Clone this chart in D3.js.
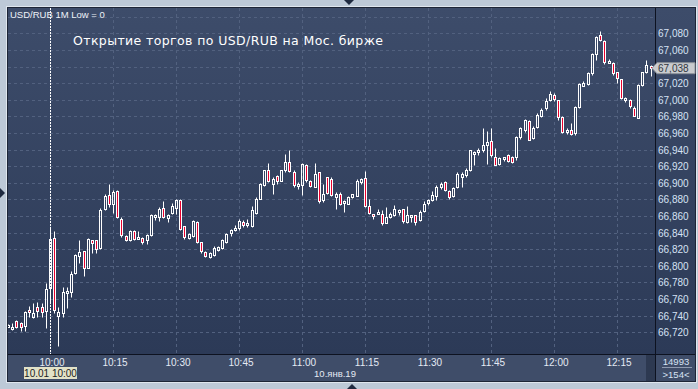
<!DOCTYPE html>
<html>
<head>
<meta charset="utf-8">
<script src="https://cdn.jsdelivr.net/npm/d3@7"></script>
<style>
html, body { margin: 0; padding: 0; background: #bdc9d7; }
svg { display: block; font-family: "Liberation Sans", Arial, sans-serif; }
</style>
</head>
<body>
<svg id="chart" width="698" height="389"></svg>
<script>

// one-minute bars, first bar at 9:50
var firstMinute = 590;

var opens = [
    66727, 66724, 66734, 66731, 66728, 66747, 66738, 66751, 66750, 66746,
    66773, 66833, 66740, 66743, 66767, 66769, 66791, 66812, 66818, 66798,
    66831, 66831, 66822, 66868, 66885, 66875, 66890, 66857, 66836, 66831,
    66842, 66833, 66833, 66831, 66837, 66859, 66859, 66870, 66858, 66864,
    66870, 66879, 66848, 66834, 66836, 66853, 66829, 66817, 66811, 66813,
    66819, 66821, 66829, 66840, 66844, 66845, 66853, 66849, 66848, 66864,
    66881, 66897, 66916, 66899, 66908, 66902, 66915, 66925, 66913, 66896,
    66897, 66921, 66902, 66895, 66913, 66879, 66907, 66905, 66883, 66886,
    66876, 66875, 66883, 66884, 66901, 66906, 66872, 66863, 66863, 66863,
    66852, 66859, 66861, 66865, 66868, 66853, 66860, 66861, 66855, 66866,
    66876, 66879, 66884, 66895, 66901, 66890, 66884, 66895, 66907, 66909,
    66915, 66935, 66937, 66939, 66946, 66950, 66931, 66923, 66929, 66933,
    66931, 66931, 66955, 66964, 66974, 66954, 66967, 66980, 66990, 67000,
    67006, 67000, 66979, 66961, 66964, 66960, 66991, 67017, 67019, 67032,
    67055, 67078, 67071, 67046, 67044, 67033, 67025, 67001, 67000, 66990,
    66978, 67018, 67033, 67041
];

var highs = [
    66730, 66731, 66735, 66733, 66746, 66752, 66755, 66756, 66755, 66779,
    66847, 66842, 66751, 66775, 66775, 66794, 66814, 66831, 66818, 66833,
    66831, 66831, 66870, 66887, 66898, 66891, 66891, 66859, 66837, 66843,
    66843, 66842, 66835, 66838, 66862, 66862, 66871, 66878, 66862, 66876,
    66880, 66880, 66848, 66839, 66855, 66854, 66829, 66818, 66817, 66824,
    66824, 66832, 66839, 66844, 66849, 66856, 66855, 66856, 66872, 66883,
    66900, 66916, 66924, 66907, 66909, 66916, 66935, 66940, 66915, 66901,
    66924, 66923, 66903, 66924, 66913, 66899, 66907, 66907, 66889, 66889,
    66879, 66884, 66887, 66904, 66906, 66914, 66881, 66863, 66868, 66867,
    66871, 66865, 66873, 66868, 66869, 66872, 66861, 66861, 66867, 66878,
    66881, 66890, 66897, 66901, 66902, 66891, 66895, 66913, 66913, 66918,
    66940, 66938, 66942, 66966, 66962, 66966, 66942, 66931, 66931, 66935,
    66932, 66956, 66967, 66977, 66976, 66968, 66984, 66990, 67002, 67011,
    67008, 67000, 66980, 66966, 66972, 66992, 67020, 67022, 67034, 67056,
    67077, 67083, 67072, 67049, 67045, 67034, 67025, 67003, 67001, 66992,
    67019, 67034, 67048, 67042
];

var lows = [
    66726, 66723, 66725, 66722, 66721, 66739, 66737, 66739, 66739, 66725,
    66757, 66743, 66704, 66739, 66749, 66763, 66790, 66804, 66788, 66797,
    66816, 66815, 66820, 66867, 66871, 66864, 66858, 66835, 66830, 66830,
    66831, 66832, 66826, 66826, 66836, 66855, 66854, 66858, 66853, 66862,
    66863, 66843, 66832, 66832, 66835, 66828, 66815, 66811, 66809, 66812,
    66818, 66820, 66828, 66836, 66842, 66843, 66847, 66847, 66847, 66862,
    66880, 66896, 66901, 66887, 66899, 66902, 66913, 66913, 66895, 66892,
    66885, 66901, 66895, 66895, 66876, 66877, 66887, 66884, 66869, 66873,
    66865, 66874, 66882, 66884, 66898, 66871, 66863, 66857, 66862, 66849,
    66851, 66858, 66860, 66861, 66852, 66852, 66853, 66849, 66854, 66865,
    66873, 66878, 66879, 66893, 66890, 66881, 66883, 66894, 66895, 66907,
    66914, 66921, 66933, 66937, 66923, 66931, 66921, 66922, 66926, 66925,
    66924, 66927, 66953, 66961, 66951, 66953, 66966, 66979, 66988, 66999,
    66999, 66976, 66960, 66959, 66958, 66958, 66990, 67016, 67018, 67030,
    67048, 67071, 67043, 67044, 67030, 67020, 67001, 66997, 66990, 66980,
    66978, 67017, 67032, 67029
];

var closes = [
    66729, 66726, 66726, 66726, 66745, 66744, 66743, 66746, 66745, 66772,
    66832, 66747, 66744, 66769, 66770, 66790, 66813, 66817, 66798, 66832,
    66828, 66820, 66867, 66884, 66874, 66889, 66859, 66837, 66831, 66842,
    66832, 66835, 66829, 66837, 66861, 66861, 66869, 66859, 66861, 66872,
    66879, 66844, 66835, 66838, 66854, 66829, 66818, 66812, 66815, 66822,
    66823, 66831, 66838, 66843, 66845, 66854, 66849, 66851, 66867, 66881,
    66899, 66915, 66902, 66905, 66902, 66915, 66925, 66914, 66897, 66899,
    66923, 66903, 66896, 66911, 66878, 66887, 66888, 66885, 66886, 66875,
    66878, 66883, 66886, 66902, 66905, 66872, 66864, 66860, 66865, 66851,
    66859, 66862, 66869, 66867, 66854, 66861, 66861, 66853, 66865, 66874,
    66879, 66885, 66895, 66899, 66891, 66883, 66894, 66911, 66910, 66915,
    66939, 66937, 66940, 66946, 66949, 66933, 66922, 66930, 66931, 66926,
    66925, 66955, 66966, 66976, 66952, 66966, 66982, 66988, 66998, 67007,
    67001, 66979, 66961, 66963, 66959, 66991, 67019, 67020, 67032, 67055,
    67075, 67072, 67045, 67047, 67032, 67026, 67002, 67002, 66992, 66981,
    67018, 67033, 67042, 67038
];

var priceTicks = [66720, 66740, 66760, 66780, 66800, 66820, 66840, 66860, 66880, 66900,
                  66920, 66940, 66960, 66980, 67000, 67020, 67040, 67060, 67080];
var priceGrid = priceTicks.concat([67100]);

var timeTicks = [600, 615, 630, 645, 660, 675, 690, 705, 720, 735];
var timeLabels = ["10:00", "10:15", "10:30", "10:45", "11:00", "11:15", "11:30", "11:45", "12:00", "12:15"];

var cursorMinute = 600;
var cursorLabel = "10.01 10:00";
var dateLabel = "10.янв.19";
var lastPrice = 67038;
var volumeText = "14993";
var barCountText = ">154<";
var titleText = "Открытие торгов по USD/RUB на Мос. бирже";
var seriesText = "USD/RUB 1M Low = 0";

var plot = { left: 8, top: 8, right: 656, bottom: 354, outer: 695 };

var svg = d3.select("#chart");

var x = d3.scaleLinear().domain([600, 615]).range([50.5, 113.5]);
var y = d3.scaleLinear().domain([66720, 67080]).range([332.3, 33.3]);

// background
var defs = svg.append("defs");
var grad = defs.append("linearGradient")
    .attr("id", "bg").attr("x1", 0).attr("y1", 0).attr("x2", 0).attr("y2", 1);
grad.append("stop").attr("offset", "0%").attr("stop-color", "#3d4c6a");
grad.append("stop").attr("offset", "100%").attr("stop-color", "#2c3a57");

defs.append("clipPath").attr("id", "plotClip")
    .append("rect")
    .attr("x", plot.left).attr("y", plot.top)
    .attr("width", plot.right - plot.left).attr("height", plot.bottom - plot.top);

svg.append("rect").attr("width", 698).attr("height", 389).attr("fill", "#bdc9d7");
svg.append("rect")
    .attr("x", 6.5).attr("y", 6.5).attr("width", 690).attr("height", 376)
    .attr("fill", "none").attr("stroke", "#dfe6ee");

svg.append("rect")
    .attr("x", plot.left).attr("y", plot.top)
    .attr("width", plot.outer - plot.left).attr("height", plot.bottom - plot.top)
    .attr("fill", "url(#bg)");

// bottom band
svg.append("rect")
    .attr("x", plot.left).attr("y", plot.bottom)
    .attr("width", plot.outer - plot.left).attr("height", 27)
    .attr("fill", "#3f4d69");
svg.append("rect")
    .attr("x", 646).attr("y", plot.bottom + 1)
    .attr("width", 9).attr("height", 26)
    .attr("fill", "#2d3951");

svg.append("rect")
    .attr("x", plot.left - 0.5).attr("y", plot.top - 0.5)
    .attr("width", plot.outer - plot.left + 1).attr("height", 381 - plot.top + 1)
    .attr("fill", "none").attr("stroke", "#1d2536");

// grid
var grid = svg.append("g").attr("clip-path", "url(#plotClip)");
grid.selectAll("line.h")
    .data(priceGrid)
    .enter().append("line")
    .attr("class", "h")
    .attr("x1", plot.left).attr("x2", plot.right)
    .attr("y1", function(d){ return Math.round(y(d)) + 0.5; })
    .attr("y2", function(d){ return Math.round(y(d)) + 0.5; })
    .attr("stroke", "#52617f")
    .attr("stroke-dasharray", "3,3");

grid.selectAll("line.v")
    .data(timeTicks)
    .enter().append("line")
    .attr("class", "v")
    .attr("x1", function(d){ return Math.floor(x(d)) + 0.5; })
    .attr("x2", function(d){ return Math.floor(x(d)) + 0.5; })
    .attr("y1", plot.top).attr("y2", plot.bottom)
    .attr("stroke", "#52617f")
    .attr("stroke-dasharray", "3,3");

// candles
var bars = opens.map(function(o, i){
    return { t: firstMinute + i, o: o, h: highs[i], l: lows[i], c: closes[i] };
});

svg.append("g").attr("clip-path", "url(#plotClip)")
    .selectAll("g")
    .data(bars)
    .enter().append("g")
    .each(function(d){
        var g = d3.select(this);
        var cx = Math.floor(x(d.t)) + 0.5;
        var top = Math.round(y(Math.max(d.o, d.c))) + 0.5;
        var bot = Math.round(y(Math.min(d.o, d.c))) + 0.5;
        if (bot - top < 2) bot = top + 2;
        var yh = Math.round(y(d.h)) + 0.5;
        var yl = Math.round(y(d.l)) + 0.5;
        if (yh < top) {
            g.append("line").attr("x1", cx).attr("x2", cx)
                .attr("y1", yh).attr("y2", top).attr("stroke", "#ffffff");
        }
        if (yl > bot) {
            g.append("line").attr("x1", cx).attr("x2", cx)
                .attr("y1", bot).attr("y2", yl).attr("stroke", "#ffffff");
        }
        g.append("rect")
            .attr("x", cx - 1).attr("y", top)
            .attr("width", 2).attr("height", bot - top)
            .attr("fill", d.c < d.o ? "#e8002d" : "none")
            .attr("stroke", "#ffffff");
    });

// cursor line
svg.append("line")
    .attr("x1", Math.floor(x(cursorMinute)) + 0.5)
    .attr("x2", Math.floor(x(cursorMinute)) + 0.5)
    .attr("y1", plot.top).attr("y2", plot.bottom)
    .attr("stroke", "#ffffff")
    .attr("stroke-dasharray", "2,1");

// separators
svg.append("line")
    .attr("x1", 655.5).attr("x2", 655.5)
    .attr("y1", plot.top).attr("y2", 381)
    .attr("stroke", "#0d1220");
svg.append("line")
    .attr("x1", plot.left).attr("x2", plot.outer)
    .attr("y1", 354.5).attr("y2", 354.5)
    .attr("stroke", "#0d1220");

// price axis
var yAxis = svg.append("g")
    .attr("transform", "translate(656,0)")
    .call(d3.axisRight(y).tickValues(priceTicks).tickSize(0).tickPadding(2)
        .tickFormat(d3.format(",")));
yAxis.select(".domain").remove();
yAxis.selectAll("text")
    .attr("fill", "#d6e2f4")
    .style("font-size", "10px")
    .attr("dy", "0.35em");

// last price tag
var yl = y(lastPrice);
svg.append("path")
    .attr("d", "M652," + yl + "L657," + (yl - 5.5) + "H695V" + (yl + 5.5) + "H657Z")
    .attr("fill", "#c9cbce")
    .attr("stroke", "#8c9199");
svg.append("text")
    .attr("x", 658).attr("y", yl)
    .attr("dy", "0.35em")
    .attr("fill", "#303640")
    .style("font-size", "10px")
    .text(d3.format(",")(lastPrice));

// time axis
var xAxis = svg.append("g")
    .attr("transform", "translate(1," + plot.bottom + ")")
    .call(d3.axisBottom(x).tickValues(timeTicks).tickSize(0).tickPadding(5)
        .tickFormat(function(d, i){ return timeLabels[i]; }));
xAxis.select(".domain").remove();
xAxis.selectAll("text")
    .attr("fill", "#e4eaf4")
    .style("font-size", "10px");

// cursor time box
var cx0 = x(cursorMinute);
svg.append("rect")
    .attr("x", cx0 - 26.5).attr("y", 367)
    .attr("width", 53).attr("height", 12)
    .attr("fill", "#e2e2c8");
svg.append("text")
    .attr("x", cx0).attr("y", 377)
    .attr("text-anchor", "middle")
    .attr("fill", "#1c1c1c")
    .style("font-size", "10px")
    .text(cursorLabel);

svg.append("text")
    .attr("x", 335).attr("y", 377)
    .attr("text-anchor", "middle")
    .attr("fill", "#e4eaf4")
    .style("font-size", "9.5px")
    .text(dateLabel);

// bottom right box
svg.append("text")
    .attr("x", 676).attr("y", 365)
    .attr("text-anchor", "middle")
    .attr("fill", "#d6e2f4")
    .style("font-size", "9.5px")
    .text(volumeText);
svg.append("line")
    .attr("x1", 662).attr("x2", 692)
    .attr("y1", 367.5).attr("y2", 367.5)
    .attr("stroke", "#8e9ab0");
svg.append("text")
    .attr("x", 676).attr("y", 378)
    .attr("text-anchor", "middle")
    .attr("fill", "#d6e2f4")
    .style("font-size", "9.5px")
    .text(barCountText);

// labels
svg.append("text")
    .attr("x", 10).attr("y", 18)
    .attr("fill", "#eef2f8")
    .style("font-size", "9.5px")
    .text(seriesText);

svg.append("text")
    .attr("x", 73).attr("y", 45)
    .attr("fill", "#ffffff")
    .attr("textLength", 310)
    .attr("lengthAdjust", "spacing")
    .style("font-family", "'DejaVu Sans', sans-serif")
    .style("font-size", "12.5px")
    .text(titleText);

// frame arrows
svg.append("path").attr("d", "M344,0H354L349,5Z").attr("fill", "#1f2a40");
svg.append("path").attr("d", "M347,389H357L352,384Z").attr("fill", "#1f2a40");
svg.append("path").attr("d", "M0,188V198L5,193Z").attr("fill", "#1f2a40");

</script>
</body>
</html>
